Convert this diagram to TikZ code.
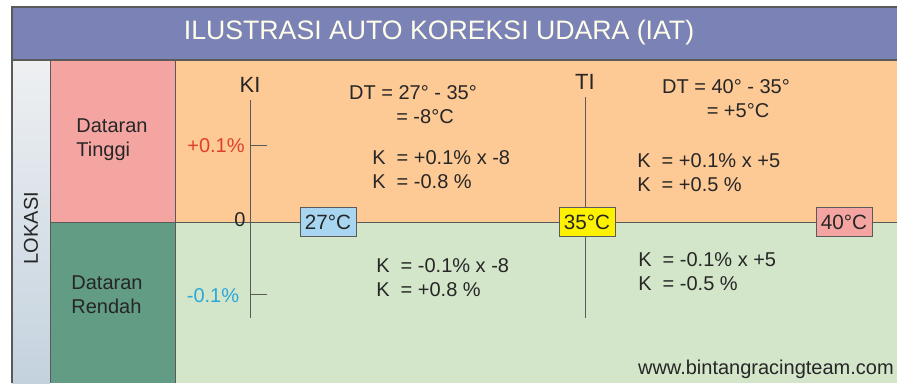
\documentclass[tikz,border=0pt]{standalone}
\usepackage{fontspec}
\setmainfont{Liberation Sans}
\definecolor{titlebg}{HTML}{7B83B6}
\definecolor{pinkbg}{HTML}{F4A5A2}
\definecolor{dgreen}{HTML}{629C84}
\definecolor{orangebg}{HTML}{FDC995}
\definecolor{lgreen}{HTML}{D3E6CA}
\definecolor{lineg}{HTML}{5A5A5A}
\definecolor{txt}{HTML}{262626}
\definecolor{redt}{HTML}{E0402A}
\definecolor{cyant}{HTML}{2BA7D8}
\definecolor{boxblue}{HTML}{A8D6F0}
\definecolor{boxyel}{HTML}{FFF200}
\definecolor{stripA}{HTML}{EEF0F2}
\definecolor{stripB}{HTML}{C4D2DE}
\tikzset{
  lbl/.style={font=\fontsize{15}{18}\selectfont, text=txt, inner sep=0pt},
  eq/.style={lbl, anchor=west, align=left},
  tbox/.style={draw=lineg, line width=0.7pt, minimum width=42pt, minimum height=21.5pt, inner sep=0pt, font=\fontsize{15.5}{18}\selectfont, text=txt},
  axis/.style={draw=lineg, line width=0.7pt},
}
\begin{document}
\begin{tikzpicture}[x=0.75pt,y=-0.75pt]
\useasboundingbox (0,0) rectangle (897,383);
\fill[white] (0,0) rectangle (897,383);
% background regions
\fill[titlebg] (12,7) rectangle (897,60);
\shade[top color=stripA, bottom color=stripB] (12,60) rectangle (50,383);
\fill[pinkbg] (50,60) rectangle (175,222);
\fill[dgreen] (50,222) rectangle (175,383);
\fill[orangebg] (175,60) rectangle (897,222);
\fill[lgreen] (175,222) rectangle (897,383);
% frame lines
\draw[lineg, line width=1pt] (12,383) -- (12,7) -- (897,7);
\draw[lineg, line width=1pt] (12,60) -- (897,60);
\draw[lineg, line width=0.7pt] (50,60) -- (50,383);
\draw[lineg, line width=0.7pt] (175,60) -- (175,383);
\draw[lineg, line width=0.7pt] (50,222) -- (897,222);
% title
\node[font=\fontsize{20}{24}\selectfont, text=white!92!yellow, inner sep=0pt] (title) at (439,33) {ILUSTRASI AUTO KOREKSI UDARA (IAT)};
% left labels
\node[lbl, rotate=90] (lokasi) at (31,228) {LOKASI};
\node[lbl, align=left] (tinggi) at (112,140) {Dataran\\Tinggi};
\node[lbl, align=left] (rendah) at (107,295) {Dataran\\Rendah};
% axes
\coordinate (kitop) at (250,100);
\coordinate (kibot) at (250,318);
\coordinate (titop) at (585,97);
\coordinate (tibot) at (585,318);
\draw[axis] (kitop) -- (kibot);
\draw[axis] (titop) -- (tibot);
\coordinate (tp) at (250,145);
\coordinate (tpe) at (267,145);
\coordinate (tm) at (250,294);
\coordinate (tme) at (267,294);
\draw[axis] (tp) -- (tpe);
\draw[axis] (tm) -- (tme);
\node[lbl, font=\fontsize{16.5}{18}\selectfont] (ki) at (250,85) {KI};
\node[lbl, font=\fontsize{16.5}{18}\selectfont] (ti) at (585,82) {TI};
\node[lbl, text=redt] (plus) at (216,146) {+0.1\%};
\node[lbl, text=cyant] (minus) at (213,296) {-0.1\%};
\node[lbl] (zero) at (240,220) {0};
% temp boxes
\node[tbox, fill=boxblue] (t27) at (328,222) {27°C};
\node[tbox, fill=boxyel] (t35) at (587,222) {35°C};
\node[tbox, fill=pinkbg] (t40) at (844,222) {40°C};
% equations
\node[lbl, align=center] (dt1) at (413,105) {DT = 27° - 35°\\ \hspace*{1.2em}= -8°C};
\node[lbl, align=center] (dt2) at (726,99) {DT = 40° - 35°\\ \hspace*{1.2em}= +5°C};
\node[eq] (k1) at (372,170) {K\ \ = +0.1\% x -8\\K\ \ = -0.8 \%};
\node[eq] (k2) at (637,173) {K\ \ = +0.1\% x +5\\K\ \ = +0.5 \%};
\node[eq] (k3) at (376,278) {K\ \ = -0.1\% x -8\\K\ \ = +0.8 \%};
\node[eq] (k4) at (638,272) {K\ \ = -0.1\% x +5\\K\ \ = -0.5 \%};
\node[lbl, anchor=east] (web) at (894,369) {www.bintangracingteam.com};
\end{tikzpicture}
\end{document}
